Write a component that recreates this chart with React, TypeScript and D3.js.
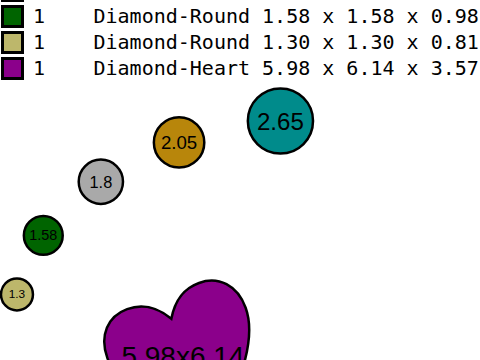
import React from "react";
import * as d3 from "d3";

// ---- data ----
const shapes = ["Diamond-Round", "Diamond-Round", "Diamond-Round", "Diamond-Round", "Diamond-Round", "Diamond-Heart"];
const counts = [1, 1, 1, 1, 1, 1];
const colors = ["#008B8B", "#B8860B", "#A9A9A9", "#006400", "#BDB76B", "#8B008B"];
const widthsMm = [2.65, 2.05, 1.8, 1.58, 1.3, 5.98];
const lengthsMm = [2.65, 2.05, 1.8, 1.58, 1.3, 6.14];
const depthsMm: (number | null)[] = [null, null, null, 0.98, 0.81, 3.57];
// layout of stones on the piece, in mm relative to the centre stone
const posXMm = [3.92, -0.2, -3.38, -5.72, -6.79, 0.2];
const posYMm = [-10.0, -9.13, -7.53, -5.35, -2.95, 0];
const heartRotation = -20;

const W = 480;
const H = 360;

// heart outline in unit box (-0.5..0.5)
const heartPts: number[][] = [
  [0, -0.34],
  [0.08, -0.47, 0.17, -0.5, 0.26, -0.5],
  [0.4, -0.5, 0.5, -0.4, 0.5, -0.24],
  [0.5, -0.02, 0.3, 0.2, 0, 0.5],
  [-0.3, 0.2, -0.5, -0.02, -0.5, -0.24],
  [-0.5, -0.4, -0.4, -0.5, -0.26, -0.5],
  [-0.17, -0.5, -0.08, -0.47, 0, -0.34],
];

export default function App() {
  const pxPerMm = 24.6;
  const x = d3.scaleLinear().domain([0, 1]).range([184, 184 + pxPerMm]);
  const y = d3.scaleLinear().domain([0, 1]).range([367, 367 + pxPerMm]);
  const len = (mm: number) => x(mm) - x(0);
  const rowY = d3.scaleLinear().domain([0, 1]).range([-55, -29]);
  const fmt = d3.format(".2f");

  const heartPath = (w: number, h: number) => {
    const p = d3.path();
    heartPts.forEach((pt, i) => {
      if (i === 0) p.moveTo(pt[0] * w, pt[1] * h);
      else p.bezierCurveTo(pt[0] * w, pt[1] * h, pt[2] * w, pt[3] * h, pt[4] * w, pt[5] * h);
    });
    p.closePath();
    return p.toString();
  };

  return (
    <svg width={W} height={H} style={{ position: "absolute", left: 0, top: 0, background: "#fff" }}>
      {/* legend */}
      {shapes.map((s, i) => {
        const base = rowY(i);
        return (
          <g key={"lg" + i}>
            <rect x={2.5} y={base - 16.5} width={20} height={20} fill={colors[i]} stroke="#000" strokeWidth={3} />
            {base > 0 && (
              <>
                <text x={33} y={base} fontFamily="'DejaVu Sans Mono', monospace" fontSize={20} fill="#000">
                  {counts[i]}
                </text>
                <text x={93.5} y={base} fontFamily="'DejaVu Sans Mono', monospace" fontSize={20} fill="#000">
                  {`${s} ${fmt(widthsMm[i])} x ${fmt(lengthsMm[i])} x ${fmt(depthsMm[i] as number)}`}
                </text>
              </>
            )}
          </g>
        );
      })}
      {/* stones */}
      {shapes.map((s, i) => {
        const cx = x(posXMm[i]);
        const cy = y(posYMm[i]);
        if (s === "Diamond-Heart") {
          return (
            <g key={"st" + i}>
              <path
                d={heartPath(len(widthsMm[i]), len(lengthsMm[i]))}
                transform={`translate(${cx},${cy}) rotate(${heartRotation})`}
                fill={colors[i]}
                stroke="#000"
                strokeWidth={2.5}
              />
              <text x={cx - 6} y={cy - 1} textAnchor="middle" fontFamily="'Liberation Sans', Arial, sans-serif" fontSize={28} fill="#000">
                {`${widthsMm[i]}x${lengthsMm[i]}`}
              </text>
            </g>
          );
        }
        const r = len(widthsMm[i] / 2);
        return (
          <g key={"st" + i}>
            <circle cx={cx} cy={cy} r={r} fill={colors[i]} stroke="#000" strokeWidth={2.5} />
            <text
              x={cx}
              y={cy}
              textAnchor="middle"
              dominantBaseline="central"
              fontFamily="'Liberation Sans', Arial, sans-serif"
              fontSize={len(widthsMm[i] * 0.37)}
              fill="#000"
            >
              {String(widthsMm[i])}
            </text>
          </g>
        );
      })}
    </svg>
  );
}
